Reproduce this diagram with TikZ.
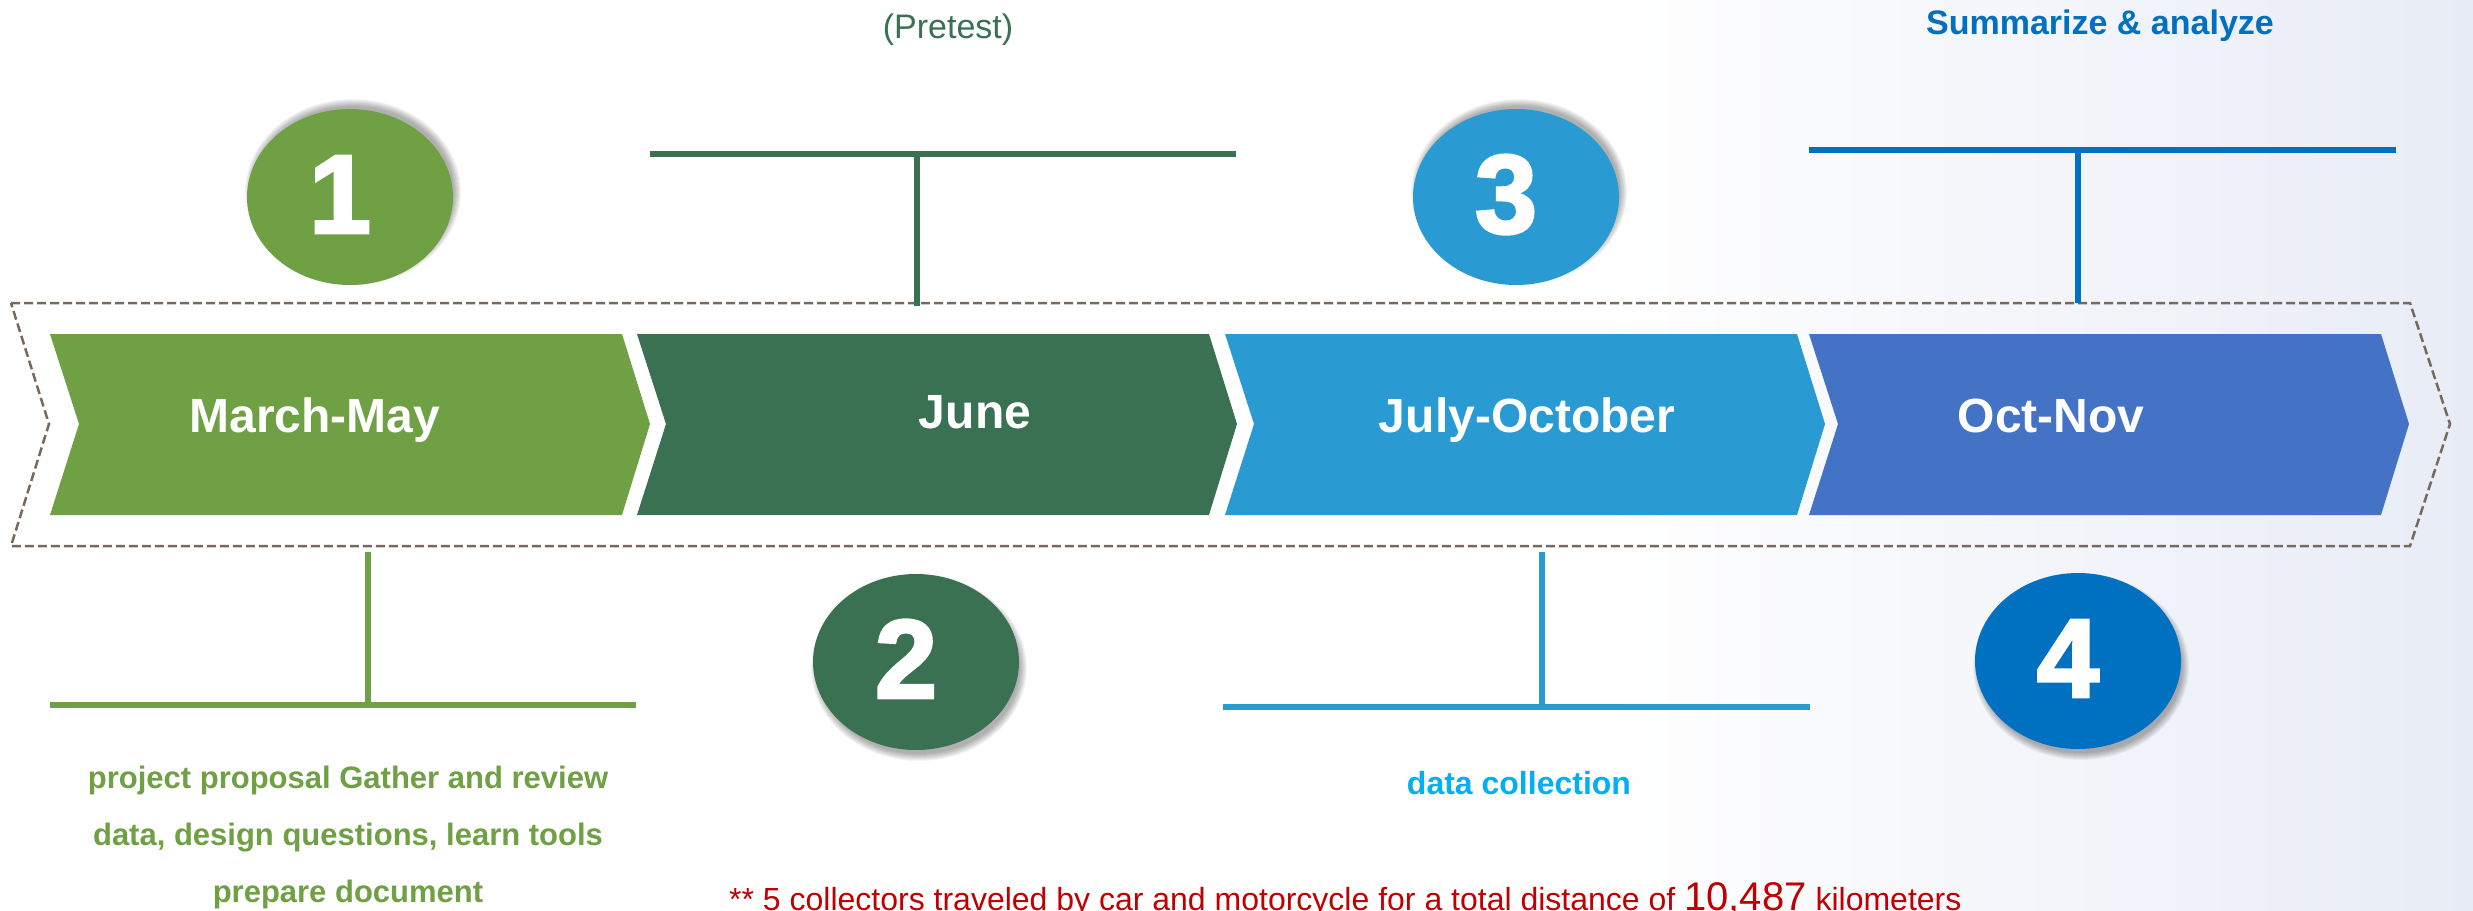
\documentclass[tikz,border=0pt]{standalone}
\usepackage{fontspec}
\setmainfont{Liberation Sans}
\newfontface\numfont[FakeBold=2.5]{Liberation Sans Bold}
\usetikzlibrary{shapes.geometric}

\definecolor{leaf}{HTML}{6FA043}
\definecolor{pine}{HTML}{3A7152}
\definecolor{sky}{HTML}{2A9BD2}
\definecolor{iris}{HTML}{4472C4}
\definecolor{ocean}{HTML}{0070C0}
\definecolor{aqua}{HTML}{00B0F0}
\definecolor{alertred}{HTML}{C00000}
\definecolor{dashbrown}{HTML}{76695D}
\definecolor{haze}{HTML}{E8ECF6}

\begin{document}
\begin{tikzpicture}
  [x=1pt,y=-1pt,every node/.style={inner sep=0pt},
   phase/.style={text=white,anchor=base,font=\bfseries\fontsize{48}{56}\selectfont},
   disc/.style={ellipse,minimum width=206pt,minimum height=176pt},
   digit/.style={text=white,anchor=base,font=\numfont\fontsize{112}{112}\selectfont},
   bar/.style={line width=6pt},
   note/.style={align=center,font=\bfseries\fontsize{31}{57}\selectfont}]

  \useasboundingbox (0,0) rectangle (2473,910);
  \clip (0,0) rectangle (2473,910);
  \fill[white] (0,0) rectangle (2473,910);
  \shade[left color=white,right color=haze] (1600,0) rectangle (2473,910);

  \draw[dashbrown,line width=2.5pt,dash pattern=on 9pt off 4pt]
    (11,303) -- (2410,303) -- (2450,424) -- (2410,546) -- (11,546) -- (49,424) -- cycle;

  % chevrons
  \foreach \l/\c in {50/leaf,637/pine,1225/sky,1809/iris}
    \fill[\c] (\l,334) -- ++(572,0) -- ++(28,90) -- ++(-28,91) -- ++(-572,0) -- ++(29,-91) -- cycle;

  \node[phase] (p1) at (315,432) {March-May};
  \node[phase] (p2) at (975,428) {June};
  \node[phase] (p3) at (1527,432) {July-October};
  \node[phase] (p4) at (2051,432) {Oct-Nov};

  % T bars
  \foreach \i/\c/\xa/\xb/\xm/\ya/\yb in {1/leaf/50/636/368/705/552,2/pine/650/1236/917/154/306,
                                        3/sky/1223/1810/1542/707/552,4/ocean/1809/2396/2078/150/303} {
    \coordinate (bar\i w) at (\xa,\ya);
    \coordinate (bar\i e) at (\xb,\ya);
    \coordinate (bar\i m) at (\xm,\ya);
    \coordinate (stem\i) at (\xm,\yb);
    \draw[bar,\c] (bar\i w) -- (bar\i e);
    \draw[bar,\c] (bar\i m) -- (stem\i);
  }

  % numbered discs
  \foreach \n/\x/\y/\dy/\c in {1/350/197/-5/leaf,2/916/662/6/pine,3/1516/197/-5/sky,4/2078/661/6/ocean} {
    \foreach \k in {1,...,8}
      \fill[black,opacity=.045] ({\x+3},{\y+(\dy)}) ellipse ({100+\k} and {85+\k});
    \node[disc,fill=\c] (d\n) at (\x,\y) {};
    \node[digit] (n\n) at ({\x-10},{\y+36}) {\n};
  }

  \node[text=pine,anchor=base,font=\fontsize{34}{40}\selectfont] (pretest) at (948,38) {(Pretest)};
  \node[text=ocean,anchor=base,font=\bfseries\fontsize{34}{40}\selectfont] (summary) at (2100,34) {Summarize \& analyze};
  \node[note,text=leaf,anchor=north] (task1) at (348,766)
    {project proposal Gather and review\\data, design questions, learn tools\\prepare document};
  \node[text=aqua,anchor=base,font=\bfseries\fontsize{32}{38}\selectfont] (task3) at (1519,794) {data collection};
  \node[text=alertred,anchor=base west,font=\fontsize{32}{38}\selectfont] (distance) at (729,910)
    {** 5 collectors traveled by car and motorcycle for a total distance of {\fontsize{40}{40}\selectfont 10,487} kilometers};
\end{tikzpicture}
\end{document}
